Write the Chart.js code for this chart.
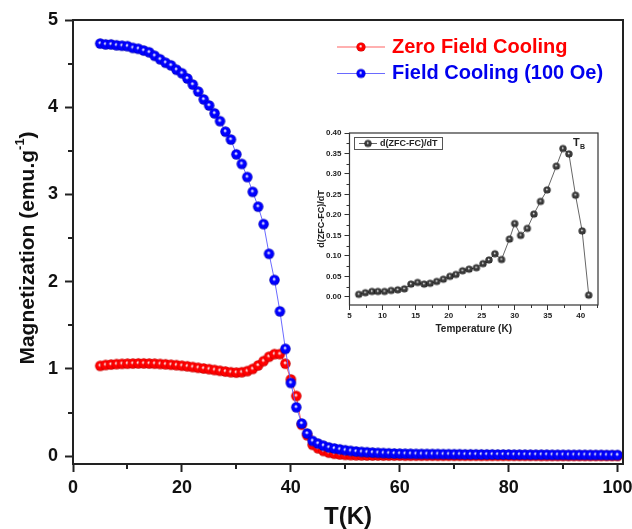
<!DOCTYPE html>
<html>
<head>
<meta charset="utf-8">
<script src="https://cdn.jsdelivr.net/npm/chart.js@4.4.1/dist/chart.umd.min.js"></script>
<style>
  body { margin: 0; background: #fff; }
  #wrap { position: relative; width: 632px; height: 529px; }
  #mainCanvas { position: absolute; left: 0; top: 0; }
  #insetCanvas { position: absolute; left: 300px; top: 120px; }
</style>
</head>
<body>
<div id="wrap">
  <canvas id="mainCanvas" width="632" height="529"></canvas>
  <canvas id="insetCanvas" width="310" height="220"></canvas>
</div>
<script>
// main plot: temperature (K) and magnetization (emu/g)
const temps = [
  5, 6, 7, 8, 9, 10, 11, 12, 13, 14, 15, 16, 17, 18, 19, 20, 21, 22, 23, 24,
  25, 26, 27, 28, 29, 30, 31, 32, 33, 34, 35, 36, 37, 38, 39, 40, 41, 42, 43, 44,
  45, 46, 47, 48, 49, 50, 51, 52, 53, 54, 55, 56, 57, 58, 59, 60, 61, 62, 63, 64,
  65, 66, 67, 68, 69, 70, 71, 72, 73, 74, 75, 76, 77, 78, 79, 80, 81, 82, 83, 84,
  85, 86, 87, 88, 89, 90, 91, 92, 93, 94, 95, 96, 97, 98, 99, 100
];
const fcValues = [
  4.73, 4.72, 4.72, 4.71, 4.705, 4.70, 4.68, 4.67, 4.65, 4.63, 4.59, 4.55, 4.51, 4.48, 4.43, 4.39, 4.33, 4.26, 4.18, 4.09,
  4.02, 3.93, 3.84, 3.72, 3.63, 3.46, 3.35, 3.20, 3.03, 2.86, 2.66, 2.32, 2.02, 1.66, 1.23, 0.84, 0.56, 0.375, 0.26, 0.175,
  0.145, 0.12, 0.10, 0.088, 0.078, 0.068, 0.060, 0.054, 0.049, 0.045, 0.041, 0.038, 0.035, 0.033, 0.031, 0.029, 0.028, 0.027, 0.026, 0.025,
  0.025, 0.024, 0.024, 0.023, 0.023, 0.022, 0.022, 0.021, 0.021, 0.021, 0.020, 0.020, 0.020, 0.019, 0.019, 0.019, 0.018, 0.018, 0.018, 0.017,
  0.017, 0.017, 0.017, 0.016, 0.016, 0.016, 0.015, 0.015, 0.015, 0.015, 0.014, 0.014, 0.014, 0.013, 0.013, 0.013
];
const zfcValues = [
  1.035, 1.045, 1.05, 1.055, 1.058, 1.06, 1.062, 1.063, 1.063, 1.062, 1.06, 1.057, 1.053, 1.048, 1.043, 1.037, 1.03, 1.022, 1.013, 1.005,
  0.997, 0.988, 0.979, 0.97, 0.962, 0.958, 0.962, 0.975, 1.0, 1.04, 1.09, 1.14, 1.17, 1.17, 1.06, 0.88, 0.69, 0.36, 0.24, 0.13,
  0.09, 0.06, 0.04, 0.028, 0.02, 0.015, 0.012, 0.010, 0.009, 0.008, 0.008, 0.008, 0.007, 0.007, 0.007, 0.007, 0.006, 0.006, 0.006, 0.006,
  0.006, 0.006, 0.005, 0.005, 0.005, 0.005, 0.005, 0.005, 0.005, 0.005, 0.004, 0.004, 0.004, 0.004, 0.004, 0.004, 0.004, 0.004, 0.004, 0.004,
  0.004, 0.003, 0.003, 0.003, 0.003, 0.003, 0.003, 0.003, 0.003, 0.003, 0.003, 0.003, 0.003, 0.003, 0.003, 0.003
];
const xTicks = [0, 20, 40, 60, 80, 100];
const xMinor = [10, 30, 50, 70, 90];
const yTicks = [0, 1, 2, 3, 4, 5];
const yMinor = [0.5, 1.5, 2.5, 3.5, 4.5];

// inset: derivative d(ZFC-FC)/dT
const insetTemps = [
  6.4, 7.4, 8.4, 9.3, 10.3, 11.3, 12.3, 13.3, 14.3, 15.3, 16.3, 17.2, 18.2, 19.2, 20.2, 21.1, 22.1, 23.1,
  24.2, 25.2, 26.1, 27.0, 28.0, 29.2, 30.0, 30.9, 31.9, 32.9, 33.9, 34.9, 36.3, 37.3, 38.2, 39.2, 40.2, 41.2
];
const insetValues = [
  0.006, 0.010, 0.013, 0.013, 0.013, 0.0155, 0.017, 0.0195, 0.031, 0.035, 0.031, 0.033, 0.0375, 0.043, 0.050, 0.0545, 0.0635, 0.0675,
  0.071, 0.081, 0.090, 0.105, 0.091, 0.141, 0.179, 0.150, 0.167, 0.202, 0.233, 0.261, 0.319, 0.362, 0.349, 0.248, 0.161, 0.004
];
const insetXTicks = [5, 10, 15, 20, 25, 30, 35, 40];
const insetXMinor = [7.5, 12.5, 17.5, 22.5, 27.5, 32.5, 37.5, 42.5];
const insetYTicks = [0, 0.05, 0.10, 0.15, 0.20, 0.25, 0.30, 0.35, 0.40];
const insetYMinor = [0.025, 0.075, 0.125, 0.175, 0.225, 0.275, 0.325, 0.375];

const FONT = '"Liberation Sans", Arial, sans-serif';

// shaded ball used as point marker
function makeBall(r, light, base, dark) {
  const c = document.createElement("canvas");
  const s = Math.ceil(r * 2 + 2);
  c.width = s;
  c.height = s;
  const g = c.getContext("2d");
  const cx = s / 2, cy = s / 2;
  const grad = g.createRadialGradient(cx - r * 0.1, cy - r * 0.2, 0, cx, cy, r);
  grad.addColorStop(0, "#ffffff");
  grad.addColorStop(0.15, light);
  grad.addColorStop(0.38, base);
  grad.addColorStop(0.8, base);
  grad.addColorStop(1, dark);
  g.fillStyle = grad;
  g.beginPath();
  g.arc(cx, cy, r, 0, Math.PI * 2);
  g.fill();
  return c;
}

const blueBall = makeBall(5.2, "#c8c8ff", "#0000ff", "#0000b0");
const redBall = makeBall(5.2, "#ffc8c8", "#ff0000", "#c00000");
const blueLegendBall = makeBall(4.6, "#c8c8ff", "#0000ff", "#0000b0");
const redLegendBall = makeBall(4.6, "#ffc8c8", "#ff0000", "#c00000");
const greyBall = makeBall(3.6, "#cccccc", "#3a3a3a", "#000000");

function line(ctx, x1, y1, x2, y2) {
  ctx.beginPath();
  ctx.moveTo(x1, y1);
  ctx.lineTo(x2, y2);
  ctx.stroke();
}

function drawBall(ctx, img, x, y) {
  ctx.drawImage(img, x - img.width / 2, y - img.height / 2);
}

const mainDecor = {
  id: "mainDecor",
  afterDraw(chart) {
    const { ctx, chartArea: a, scales } = chart;
    ctx.save();
    ctx.strokeStyle = "#222";
    ctx.lineWidth = 2;
    ctx.strokeRect(a.left, a.top, a.right - a.left, a.bottom - a.top);

    // minor ticks
    xMinor.forEach((v) => {
      const px = Math.round(scales.x.getPixelForValue(v));
      line(ctx, px, a.bottom, px, a.bottom + 5);
    });
    yMinor.forEach((v) => {
      const py = Math.round(scales.y.getPixelForValue(v));
      line(ctx, a.left - 5, py, a.left, py);
    });

    // axis titles
    ctx.fillStyle = "#111";
    ctx.textBaseline = "middle";
    ctx.textAlign = "center";
    ctx.font = `bold 24px ${FONT}`;
    ctx.fillText("T(K)", (a.left + a.right) / 2, 517);

    ctx.save();
    ctx.translate(28, 248);
    ctx.rotate(-Math.PI / 2);
    const big = `bold 21px ${FONT}`;
    const small = `bold 13px ${FONT}`;
    ctx.font = big;
    const w1 = ctx.measureText("Magnetization (emu.g").width;
    const w3 = ctx.measureText(")").width;
    ctx.font = small;
    const w2 = ctx.measureText("-1").width;
    let sx = -(w1 + w2 + w3) / 2;
    ctx.textAlign = "left";
    ctx.font = big;
    ctx.fillText("Magnetization (emu.g", sx, 0);
    ctx.font = small;
    ctx.fillText("-1", sx + w1, -8);
    ctx.font = big;
    ctx.fillText(")", sx + w1 + w2, 0);
    ctx.restore();

    // legend
    ctx.lineWidth = 1;
    ctx.font = `bold 20px ${FONT}`;
    ctx.textAlign = "left";
    ctx.strokeStyle = "rgba(255,80,80,0.9)";
    line(ctx, 337, 47, 385, 47);
    drawBall(ctx, redLegendBall, 361, 47);
    ctx.fillStyle = "#ff0000";
    ctx.fillText("Zero Field Cooling", 392, 47);
    ctx.strokeStyle = "rgba(90,90,255,0.9)";
    line(ctx, 337, 73.5, 385, 73.5);
    drawBall(ctx, blueLegendBall, 361, 73.5);
    ctx.fillStyle = "#0000ee";
    ctx.fillText("Field Cooling (100 Oe)", 392, 73.5);
    ctx.restore();
  },
};

const tickFont = { family: FONT, size: 18, weight: "bold" };

new Chart(document.getElementById("mainCanvas"), {
  type: "line",
  data: {
    datasets: [
      {
        label: "Field Cooling (100 Oe)",
        data: temps.map((t, i) => ({ x: t, y: fcValues[i] })),
        borderColor: "rgba(90,90,255,0.9)",
        borderWidth: 1,
        pointStyle: blueBall,
        pointRadius: 5,
        tension: 0,
      },
      {
        label: "Zero Field Cooling",
        data: temps.map((t, i) => ({ x: t, y: zfcValues[i] })),
        borderColor: "rgba(255,80,80,0.9)",
        borderWidth: 1,
        pointStyle: redBall,
        pointRadius: 5,
        tension: 0,
      },
    ],
  },
  options: {
    responsive: false,
    animation: false,
    clip: false,
    layout: { padding: { top: 20, right: 9, left: 0, bottom: 0 } },
    plugins: { legend: { display: false }, tooltip: { enabled: false } },
    scales: {
      x: {
        type: "linear",
        min: 0,
        max: 101,
        afterBuildTicks: (s) => { s.ticks = xTicks.map((v) => ({ value: v })); },
        afterFit: (s) => { s.height = 65; s.paddingLeft = 0; s.paddingRight = 0; },
        grid: { drawOnChartArea: false, tickLength: 8, tickWidth: 2, tickColor: "#222" },
        border: { display: false },
        ticks: { font: tickFont, color: "#111", padding: 5, maxRotation: 0, autoSkip: false },
      },
      y: {
        type: "linear",
        min: -0.09,
        max: 5,
        afterBuildTicks: (s) => { s.ticks = yTicks.map((v) => ({ value: v })); },
        afterFit: (s) => { s.width = 73; s.paddingTop = 0; s.paddingBottom = 0; },
        grid: { drawOnChartArea: false, tickLength: 8, tickWidth: 2, tickColor: "#222" },
        border: { display: false },
        ticks: { font: tickFont, color: "#111", padding: 7, autoSkip: false },
      },
    },
  },
  plugins: [mainDecor],
});

// inset chart, canvas placed at (300,120)
const insetDecor = {
  id: "insetDecor",
  afterDraw(chart) {
    const { ctx, chartArea: a, scales } = chart;
    ctx.save();
    ctx.strokeStyle = "#333";
    ctx.lineWidth = 1.2;
    ctx.strokeRect(a.left, a.top, a.right - a.left, a.bottom - a.top);
    ctx.lineWidth = 1;
    insetXMinor.forEach((v) => {
      const px = Math.round(scales.x.getPixelForValue(v)) + 0.5;
      line(ctx, px, a.bottom, px, a.bottom + 3);
    });
    insetYMinor.forEach((v) => {
      const py = Math.round(scales.y.getPixelForValue(v)) + 0.5;
      line(ctx, a.left - 3, py, a.left, py);
    });

    ctx.fillStyle = "#222";
    ctx.textBaseline = "middle";
    ctx.textAlign = "center";
    ctx.font = `bold 10px ${FONT}`;
    ctx.fillText("Temperature (K)", (a.left + a.right) / 2, 209);

    ctx.save();
    ctx.translate(22, (a.top + a.bottom) / 2);
    ctx.rotate(-Math.PI / 2);
    ctx.font = `bold 9px ${FONT}`;
    ctx.fillText("d(ZFC-FC)/dT", 0, 0);
    ctx.restore();

    // legend box
    ctx.strokeStyle = "#555";
    ctx.strokeRect(54.5, 17.5, 88, 12);
    ctx.strokeStyle = "#666";
    line(ctx, 59, 23.5, 77, 23.5);
    drawBall(ctx, greyBall, 68, 23.5);
    ctx.textAlign = "left";
    ctx.font = `bold 9px ${FONT}`;
    ctx.fillText("d(ZFC-FC)/dT", 80, 24);

    // blocking temperature label
    ctx.font = `bold 11px ${FONT}`;
    ctx.fillText("T", 273, 23);
    ctx.font = `bold 7px ${FONT}`;
    ctx.fillText("B", 280, 27);
    ctx.restore();
  },
};

const insetFont = { family: FONT, size: 8, weight: "bold" };

new Chart(document.getElementById("insetCanvas"), {
  type: "line",
  data: {
    datasets: [
      {
        label: "d(ZFC-FC)/dT",
        data: insetTemps.map((t, i) => ({ x: t, y: insetValues[i] })),
        borderColor: "#666",
        borderWidth: 1,
        pointStyle: greyBall,
        pointRadius: 3,
        tension: 0,
      },
    ],
  },
  options: {
    responsive: false,
    animation: false,
    clip: false,
    layout: { padding: { top: 13, right: 12, left: 0, bottom: 0 } },
    plugins: { legend: { display: false }, tooltip: { enabled: false } },
    scales: {
      x: {
        type: "linear",
        min: 5,
        max: 42.6,
        afterBuildTicks: (s) => { s.ticks = insetXTicks.map((v) => ({ value: v })); },
        afterFit: (s) => { s.height = 35; s.paddingLeft = 0; s.paddingRight = 0; },
        grid: { drawOnChartArea: false, tickLength: 5, tickWidth: 1, tickColor: "#333" },
        border: { display: false },
        ticks: { font: insetFont, color: "#222", padding: 1, maxRotation: 0, autoSkip: false },
      },
      y: {
        type: "linear",
        min: -0.02,
        max: 0.40,
        afterBuildTicks: (s) => { s.ticks = insetYTicks.map((v) => ({ value: v })); },
        afterFit: (s) => { s.width = 49.5; s.paddingTop = 0; s.paddingBottom = 0; },
        grid: { drawOnChartArea: false, tickLength: 5, tickWidth: 1, tickColor: "#333" },
        border: { display: false },
        ticks: {
          font: insetFont,
          color: "#222",
          padding: 3,
          autoSkip: false,
          callback: (v) => Number(v).toFixed(2),
        },
      },
    },
  },
  plugins: [insetDecor],
});
</script>
</body>
</html>
